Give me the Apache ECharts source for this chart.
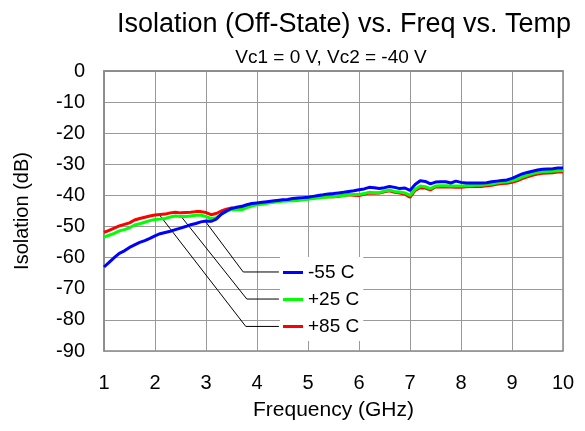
<!DOCTYPE html>
<html>
<head>
<meta charset="utf-8">
<script src="https://cdn.jsdelivr.net/npm/echarts@6/dist/echarts.min.js"></script>
<style>
html,body{margin:0;padding:0;background:#fff;}
#chart{width:585px;height:431px;}
</style>
</head>
<body>
<div id="chart"></div>
<script>
// Frequency points (GHz)
var freq = [];
for (var i = 0; i <= 90; i++) { freq.push(+(1 + i * 0.1).toFixed(1)); }

// Isolation (dB)
var iso_m55 = [
-63.0,-61.5,-60.0,-58.6,-57.8,-56.7,-55.9,-55.1,-54.5,-53.8,
-53.0,-52.3,-51.9,-51.5,-51.0,-50.5,-50.0,-49.4,-49.0,-48.5,
-48.2,-48.3,-47.6,-46.0,-45.0,-44.2,-43.8,-43.5,-43.0,-42.6,
-42.4,-42.2,-42.0,-41.8,-41.6,-41.4,-41.3,-41.0,-40.8,-40.7,
-40.6,-40.3,-40.0,-39.8,-39.5,-39.4,-39.2,-39.0,-38.7,-38.5,
-38.2,-37.9,-37.4,-37.5,-37.8,-37.5,-37.1,-37.4,-37.8,-37.6,
-38.4,-36.5,-35.3,-35.5,-36.3,-35.7,-35.6,-35.6,-36.0,-35.4,
-35.8,-36.0,-36.0,-36.0,-36.0,-35.9,-35.6,-35.4,-35.2,-35.0,
-34.5,-33.8,-33.1,-32.6,-32.2,-31.8,-31.6,-31.5,-31.4,-31.2,
-31.2
];
var iso_p25 = [
-53.4,-52.8,-52.2,-51.4,-51.0,-50.4,-49.5,-49.1,-48.6,-48.1,
-47.7,-47.6,-47.4,-46.9,-46.6,-46.8,-46.8,-46.6,-46.4,-46.3,
-46.8,-47.4,-47.2,-46.0,-45.2,-44.5,-44.6,-44.6,-43.9,-43.4,
-43.0,-42.8,-42.5,-42.3,-42.0,-41.9,-41.8,-41.7,-41.6,-41.4,
-41.2,-41.0,-40.8,-40.6,-40.5,-40.4,-40.2,-40.0,-39.8,-39.7,
-39.7,-39.4,-39.0,-39.1,-39.1,-38.6,-38.3,-38.7,-38.9,-39.2,
-40.0,-38.0,-37.0,-37.2,-37.8,-37.0,-36.9,-36.9,-37.0,-37.0,
-37.0,-36.9,-36.8,-36.7,-36.7,-36.5,-36.3,-36.0,-35.8,-35.6,
-35.3,-34.8,-34.1,-33.5,-33.0,-32.6,-32.4,-32.3,-32.2,-32.1,
-32.0
];
var iso_p85 = [
-51.9,-51.2,-50.5,-49.8,-49.3,-48.8,-47.9,-47.4,-47.0,-46.6,
-46.3,-46.1,-46.0,-45.6,-45.4,-45.6,-45.5,-45.4,-45.2,-45.2,
-45.5,-46.2,-45.8,-45.0,-44.4,-44.0,-44.4,-44.3,-43.4,-43.0,
-42.6,-42.4,-42.2,-42.0,-41.7,-41.6,-41.6,-41.5,-41.4,-41.2,
-41.0,-40.8,-40.6,-40.5,-40.4,-40.4,-40.3,-40.0,-39.8,-39.9,
-40.0,-39.6,-39.2,-39.3,-39.2,-38.8,-38.5,-39.0,-39.2,-39.6,
-40.6,-38.4,-37.5,-37.6,-38.2,-37.3,-37.3,-37.2,-37.3,-37.4,
-37.4,-37.2,-37.1,-37.1,-37.1,-36.9,-36.7,-36.4,-36.2,-36.1,
-35.8,-35.3,-34.6,-34.0,-33.5,-33.1,-32.9,-32.8,-32.7,-32.5,
-32.5
];

var seriesNames = ['-55 C', '+25 C', '+85 C'];
var seriesColors = ['#0000FF', '#00FF00', '#FF0000'];

// Leader-line annotation points (GHz, dB) from each curve to its legend entry
var leader_m55 = [[3.0, -48.6], [3.73, -64.6], [4.43, -64.6]];
var leader_p25 = [[2.51, -46.7], [3.80, -73.3], [4.43, -73.3]];
var leader_p85 = [[2.09, -46.3], [3.78, -82.1], [4.43, -82.1]];

var xTicks = [1, 10, 1];   // min, max, interval
var yTicks = [-90, 0, 10]; // min, max, interval

function pairs(xs, ys) { return xs.map(function (x, k) { return [x, ys[k]]; }); }

var FONT = '"Liberation Sans", Arial, sans-serif';

var chart = echarts.init(document.getElementById('chart'), null, {renderer: 'canvas'});

function leader(name, pts) {
  return {
    name: name, type: 'line', data: pts, symbol: 'none', silent: true, z: 1,
    lineStyle: {color: '#000', width: 1}, animation: false
  };
}
function curve(idx, vals) {
  return {
    name: seriesNames[idx], type: 'line', data: pairs(freq, vals), symbol: 'none',
    smooth: false, z: 3 + (2 - idx), animation: false,
    lineStyle: {color: seriesColors[idx], width: 3},
    itemStyle: {color: seriesColors[idx]}
  };
}

chart.setOption({
  backgroundColor: '#fff',
  textStyle: {fontFamily: FONT},
  title: [
    {text: 'Isolation (Off-State) vs. Freq vs. Temp', left: 339, top: 6, textAlign: 'center',
     textStyle: {fontFamily: FONT, fontSize: 27, fontWeight: 'normal', color: '#000'}},
    {text: 'Vc1 = 0 V, Vc2 = -40 V', left: 326, top: 43, textAlign: 'center',
     textStyle: {fontFamily: FONT, fontSize: 19, fontWeight: 'normal', color: '#000'}}
  ],
  grid: {left: 104, right: 22, top: 71, bottom: 80, show: true, borderColor: '#888', borderWidth: 1.5, containLabel: false},
  legend: {
    data: seriesNames, orient: 'vertical', left: 280, top: 257,
    backgroundColor: '#fff', padding: [6, 4, 5, 3], itemGap: 8,
    itemWidth: 20, itemHeight: 3, icon: 'rect',
    textStyle: {fontFamily: FONT, fontSize: 19, color: '#000'},
    selectedMode: false, z: 10
  },
  xAxis: {
    type: 'value', min: xTicks[0], max: xTicks[1], interval: xTicks[2],
    name: 'Frequency (GHz)', nameLocation: 'middle', nameGap: 49,
    nameTextStyle: {fontFamily: FONT, fontSize: 21, color: '#000'},
    axisLine: {show: true, lineStyle: {color: '#888', width: 1.5}},
    axisTick: {show: false},
    axisLabel: {fontFamily: FONT, fontSize: 20, color: '#000', margin: 22},
    splitLine: {show: true, lineStyle: {color: '#999', width: 1}}
  },
  yAxis: {
    type: 'value', min: yTicks[0], max: yTicks[1], interval: yTicks[2],
    name: 'Isolation (dB)', nameLocation: 'middle', nameGap: 72, nameRotate: 90,
    nameTextStyle: {fontFamily: FONT, fontSize: 20, color: '#000'},
    axisLine: {show: true, lineStyle: {color: '#888', width: 1.5}},
    axisTick: {show: false},
    axisLabel: {fontFamily: FONT, fontSize: 20, color: '#000', margin: 19},
    splitLine: {show: true, lineStyle: {color: '#999', width: 1}}
  },
  series: [
    leader('lead_m55', leader_m55),
    leader('lead_p25', leader_p25),
    leader('lead_p85', leader_p85),
    curve(0, iso_m55),
    curve(1, iso_p25),
    curve(2, iso_p85)
  ]
});
</script>
</body>
</html>
